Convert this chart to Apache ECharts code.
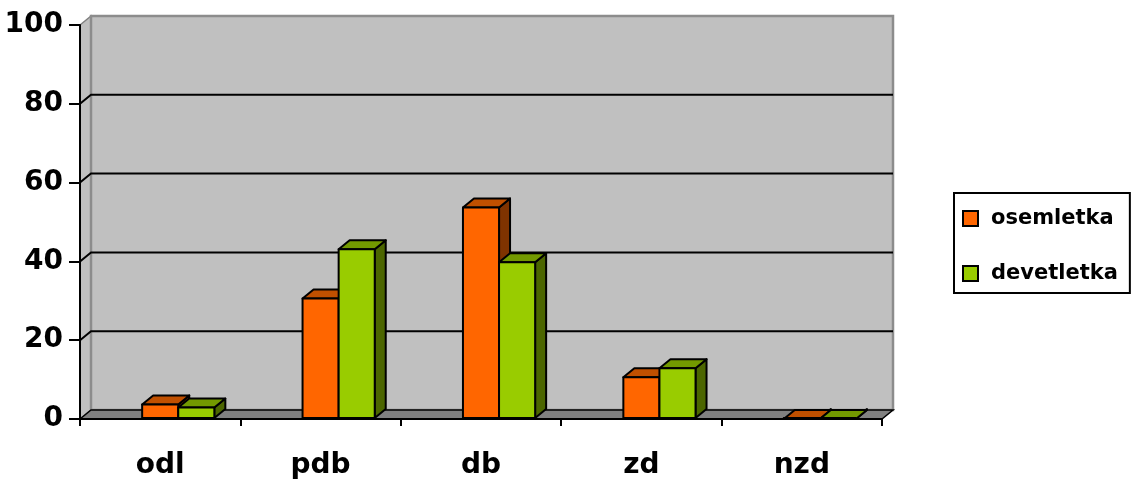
<!DOCTYPE html>
<html>
<head>
<meta charset="utf-8">
<script src="https://cdn.jsdelivr.net/npm/echarts@6/dist/echarts.min.js"></script>
<style>
  html, body { margin: 0; padding: 0; background: #fff; }
  #chart { width: 1133px; height: 481px; }
</style>
</head>
<body>
<div id="chart"></div>
<script>
// Categories and shares (%) for the two school systems
const categories = ['odl', 'pdb', 'db', 'zd', 'nzd'];
const osemletka = [3.7, 30.6, 53.7, 10.6, 0];
const devetletka = [2.9, 43.1, 39.8, 12.9, 0];
const yTicks = [0, 20, 40, 60, 80, 100];

const FONT = '"DejaVu Sans", "Liberation Sans", sans-serif';
// depth offset of the 3D box (pixels)
const DX = 11, DY = -9;

// Back wall, side wall, floor and gridlines
function renderWall(params, api) {
  const cs = params.coordSys;
  const x0 = cs.x, x1 = cs.x + cs.width;
  const yTop = cs.y, yBot = cs.y + cs.height;
  const children = [
    { type: 'polygon', shape: { points: [[x0, yTop], [x0 + DX, yTop + DY], [x0 + DX, yBot + DY], [x0, yBot]] },
      style: { fill: '#C0C0C0', stroke: '#808080', lineWidth: 1.5 } },
    { type: 'rect', shape: { x: x0 + DX, y: yTop + DY, width: x1 - x0, height: yBot - yTop },
      style: { fill: '#C0C0C0', stroke: '#8C8C8C', lineWidth: 2.5 } },
    { type: 'polygon', shape: { points: [[x0, yBot], [x0 + DX, yBot + DY], [x1 + DX, yBot + DY], [x1, yBot]] },
      style: { fill: '#808080', stroke: '#000', lineWidth: 1.5 } }
  ];
  yTicks.forEach(function (v) {
    if (v === yTicks[0] || v === yTicks[yTicks.length - 1]) return;
    const y = api.coord([0, v])[1];
    children.push({ type: 'polyline',
      shape: { points: [[x0, y], [x0 + DX, y + DY], [x1 + DX, y + DY]] },
      style: { stroke: '#000', lineWidth: 2, fill: null } });
  });
  return { type: 'group', children: children };
}

// 3D column: front face, top face and right side face
function makeBarRenderer(front, top, side, slot) {
  return function (params, api) {
    const i = api.value(0), v = api.value(1);
    const pTop = api.coord([i, v]);
    const pBase = api.coord([i, 0]);
    const band = api.size([1, 0])[0];
    const w = band * 0.225;
    const xl = pTop[0] - w / 2 + slot * w, xr = xl + w;
    const yt = pTop[1], yb = pBase[1] - 1;
    const st = { stroke: '#000', lineWidth: 2, lineJoin: 'round' };
    return { type: 'group', children: [
      { type: 'polygon', shape: { points: [[xr, yt], [xr + DX, yt + DY], [xr + DX, yb + DY], [xr, yb]] },
        style: Object.assign({ fill: side }, st) },
      { type: 'polygon', shape: { points: [[xl, yt], [xl + DX, yt + DY], [xr + DX, yt + DY], [xr, yt]] },
        style: Object.assign({ fill: top }, st) },
      { type: 'rect', shape: { x: xl, y: yt, width: w, height: yb - yt },
        style: Object.assign({ fill: front }, st) }
    ] };
  };
}

const chart = echarts.init(document.getElementById('chart'), null, { renderer: 'canvas' });
chart.setOption({
  backgroundColor: '#fff',
  animation: false,
  grid: { left: 80, right: 251, top: 25, bottom: 62 },
  legend: {
    data: ['osemletka', 'devetletka'],
    orient: 'vertical',
    left: 954, top: 193,
    padding: [15, 12, 9, 8],
    itemGap: 34,
    itemWidth: 15, itemHeight: 15,
    icon: 'rect',
    borderColor: '#000', borderWidth: 2,
    itemStyle: { borderColor: '#000', borderWidth: 2 },
    textStyle: { fontFamily: FONT, fontWeight: 'bold', fontSize: 21, color: '#000', padding: [0, 0, 0, 8] }
  },
  xAxis: {
    type: 'category',
    data: categories,
    z: 10,
    axisLine: { lineStyle: { color: '#000', width: 2 } },
    axisTick: { show: true, length: 7, lineStyle: { color: '#000', width: 2 } },
    axisLabel: { fontFamily: FONT, fontWeight: 'bold', fontSize: 28, color: '#000', margin: 33 },
    splitLine: { show: false }
  },
  yAxis: {
    type: 'value',
    min: 0, max: 100, interval: 20,
    z: 10,
    axisLine: { show: true, lineStyle: { color: '#000', width: 2 } },
    axisTick: { show: true, length: 11, lineStyle: { color: '#000', width: 2 } },
    axisLabel: { fontFamily: FONT, fontWeight: 'bold', fontSize: 28, color: '#000', margin: 17 },
    splitLine: { show: false }
  },
  series: [
    { type: 'custom', name: 'wall', silent: true, z: 1, renderItem: renderWall, data: [[0, 0]] },
    { type: 'custom', name: 'osemletka', z: 3,
      itemStyle: { color: '#FF6600' },
      renderItem: makeBarRenderer('#FF6600', '#C05000', '#7F3300', 0),
      data: osemletka.map(function (v, i) { return [i, v]; }) },
    { type: 'custom', name: 'devetletka', z: 3,
      itemStyle: { color: '#99CC00' },
      renderItem: makeBarRenderer('#99CC00', '#739900', '#4C6600', 1),
      data: devetletka.map(function (v, i) { return [i, v]; }) }
  ]
});
</script>
</body>
</html>
